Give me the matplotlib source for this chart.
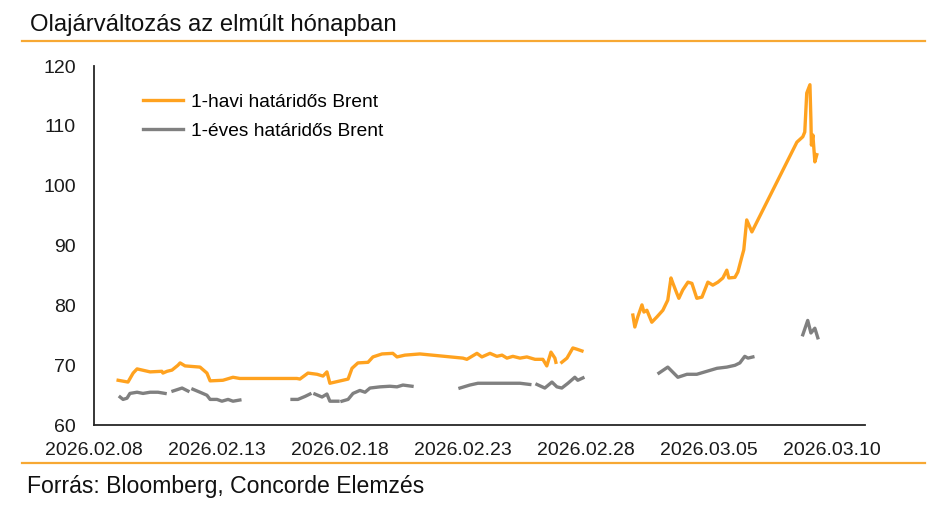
import matplotlib
matplotlib.use("Agg")
import matplotlib.pyplot as plt
import matplotlib.dates as mdates
from matplotlib.lines import Line2D
import numpy as np
import pandas as pd

plt.rcParams['font.family'] = ['Liberation Sans', 'DejaVu Sans']

# ----------------------------------------------------------------------------
# Data (days since 2026-02-08 00:00, USD/barrel)
# None = break in the line
# ----------------------------------------------------------------------------
START = pd.Timestamp('2026-02-08')

brent_1m_days = [0.98, 1.38, 1.59, 1.75, 2.28, 2.76, 2.80, 2.97, 3.17, 3.41, 3.50, 3.70,
                 4.31, 4.59, 4.72, 5.24, 5.65, 5.93, 8.25, 8.37, 8.70, 9.07, 9.31, 9.47,
                 9.59, 10.12, 10.33, 10.49, 10.73, 11.14, 11.34, 11.71, 12.15, 12.32, 12.64,
                 13.25, 15.00, 15.16, 15.57, 15.77, 16.10, 16.38, 16.59, 16.79, 17.03, 17.32,
                 17.60, 17.93, 18.25, 18.41, 18.58, 18.74, 18.78, 18.90, 19.02, 19.23, 19.47,
                 19.63, 19.84, 20.90, 21.91, 21.99, 22.11, 22.28, 22.36, 22.48, 22.68, 22.89,
                 23.13, 23.33, 23.46, 23.54, 23.70, 23.78, 23.94, 24.15, 24.31, 24.51, 24.72,
                 24.96, 25.16, 25.37, 25.57, 25.73, 25.81, 26.06, 26.18, 26.34, 26.42, 26.54,
                 26.75, 28.58, 28.82, 28.90, 28.98, 29.11, 29.15, 29.17, 29.23, 29.31, 29.39]
brent_1m = [67.5, 67.2, 68.7, 69.4, 68.9, 69.0, 68.7, 69.0, 69.2, 70.0, 70.4, 69.9,
            69.7, 68.7, 67.4, 67.5, 68.0, 67.8, 67.8, 67.7, 68.7, 68.5, 68.2, 68.9,
            67.0, 67.5, 67.7, 69.5, 70.4, 70.5, 71.4, 71.9, 72.0, 71.4, 71.7,
            71.9, 71.2, 71.0, 72.0, 71.4, 72.0, 71.5, 71.7, 71.2, 71.5, 71.2,
            71.4, 71.0, 71.0, 69.9, 72.2, 71.2, 70.5, None, 70.5, 71.2, 72.9,
            72.7, 72.4, None, 78.4, 76.4, 78.1, 80.1, 78.9, 79.2, 77.2, 78.1,
            79.2, 80.9, 84.6, 83.7, 82.0, 81.2, 82.6, 83.9, 83.7, 81.2, 81.4,
            83.9, 83.4, 83.9, 84.6, 85.9, 84.6, 84.7, 85.6, 88.1, 89.3, 94.3,
            92.3, 107.3, 108.2, 109.0, 115.5, 116.9, 111.0, 106.8, 108.5, 104.0, 105.2]

brent_1y_days = [1.06, 1.18, 1.34, 1.46, 1.75, 1.99, 2.28, 2.60, 2.89, 3.05, 3.21, 3.58,
                 3.82, 3.92, 4.02, 4.31, 4.59, 4.72, 5.00, 5.20, 5.45, 5.65, 5.93, 7.00,
                 8.05, 8.29, 8.58, 8.78, 8.88, 8.98, 9.27, 9.47, 9.59, 9.92, 10.00, 10.08,
                 10.33, 10.53, 10.81, 11.02, 11.22, 11.63, 12.03, 12.32, 12.56, 12.93, 13.90,
                 14.88, 15.28, 15.61, 15.98, 16.30, 16.79, 17.32, 17.72, 17.86, 18.01, 18.33,
                 18.62, 18.82, 19.02, 19.27, 19.55, 19.67, 19.88, 21.40, 22.97, 23.33, 23.74,
                 24.11, 24.51, 24.92, 25.33, 25.73, 26.06, 26.26, 26.46, 26.59, 26.79, 27.80,
                 28.82, 29.02, 29.15, 29.31, 29.43]
brent_1y = [64.7, 64.3, 64.5, 65.3, 65.5, 65.3, 65.5, 65.5, 65.3, None, 65.7, 66.2,
            65.7, None, 66.0, 65.5, 65.0, 64.3, 64.3, 64.0, 64.3, 64.0, 64.2, None,
            64.3, 64.3, 64.8, 65.2, None, 65.2, 64.7, 65.2, 64.0, 64.0, None, 64.0,
            64.3, 65.3, 65.8, 65.5, 66.2, 66.4, 66.5, 66.4, 66.7, 66.5, None,
            66.2, 66.7, 67.0, 67.0, 67.0, 67.0, 67.0, 66.8, None, 66.8, 66.2,
            67.2, 66.4, 66.2, 67.0, 68.0, 67.5, 67.9, None, 68.7, 69.7, 68.0,
            68.5, 68.5, 69.0, 69.5, 69.7, 70.0, 70.4, 71.5, 71.2, 71.4, None,
            75.1, 77.5, 75.4, 76.2, 74.6]

series_labels = ['1-havi határidős Brent', '1-éves határidős Brent']
series_colors = ['#FFA21F', '#808080']

TITLE = 'Olajárváltozás az elmúlt hónapban'
SOURCE = 'Forrás: Bloomberg, Concorde Elemzés'
ORANGE_RULE = '#F7A833'


def to_dates(days):
    return START + pd.to_timedelta(np.asarray(days, dtype=float), unit='D')


def to_values(vals):
    return np.array([np.nan if v is None else v for v in vals], dtype=float)


fig = plt.figure(figsize=(9.46, 5.21), dpi=100)
ax = fig.add_axes([0.0994, 0.184, 0.815, 0.689])

ax.plot(to_dates(brent_1m_days), to_values(brent_1m), color=series_colors[0],
        linewidth=2.4, label=series_labels[0], solid_joinstyle='round')
ax.plot(to_dates(brent_1y_days), to_values(brent_1y), color=series_colors[1],
        linewidth=2.4, label=series_labels[1], solid_joinstyle='round')

ax.set_ylim(60, 120)
ax.set_yticks(np.arange(60, 121, 10))
ax.set_xlim(START, START + pd.Timedelta(days=31.35))
ax.set_xticks(pd.date_range(START, periods=7, freq='5D'))
ax.xaxis.set_major_formatter(mdates.DateFormatter('%Y.%m.%d'))

for side in ['top', 'right']:
    ax.spines[side].set_visible(False)
for side in ['left', 'bottom']:
    ax.spines[side].set_color('#262626')
    ax.spines[side].set_linewidth(1.3)

ax.tick_params(axis='both', length=0, labelsize=14, colors='#1a1a1a')
ax.tick_params(axis='y', pad=13)
ax.tick_params(axis='x', pad=12)

ax.legend(loc='upper left', bbox_to_anchor=(0.063, 0.925), frameon=False,
          fontsize=13.8, handlelength=2.1, handletextpad=0.4, labelspacing=0.62,
          borderaxespad=0, borderpad=0)

# Title, rules and source
fig.text(0.032, 0.952, TITLE, fontsize=17.2, va='center', ha='left', color='#111111')
fig.add_artist(Line2D([0.023, 0.978], [0.921, 0.921], color=ORANGE_RULE, linewidth=1.6))
fig.add_artist(Line2D([0.023, 0.978], [0.111, 0.111], color=ORANGE_RULE, linewidth=1.6))
fig.text(0.0285, 0.067, SOURCE, fontsize=16.6, va='center', ha='left', color='#111111')

plt.savefig('out.png', dpi=100)
plt.close()
